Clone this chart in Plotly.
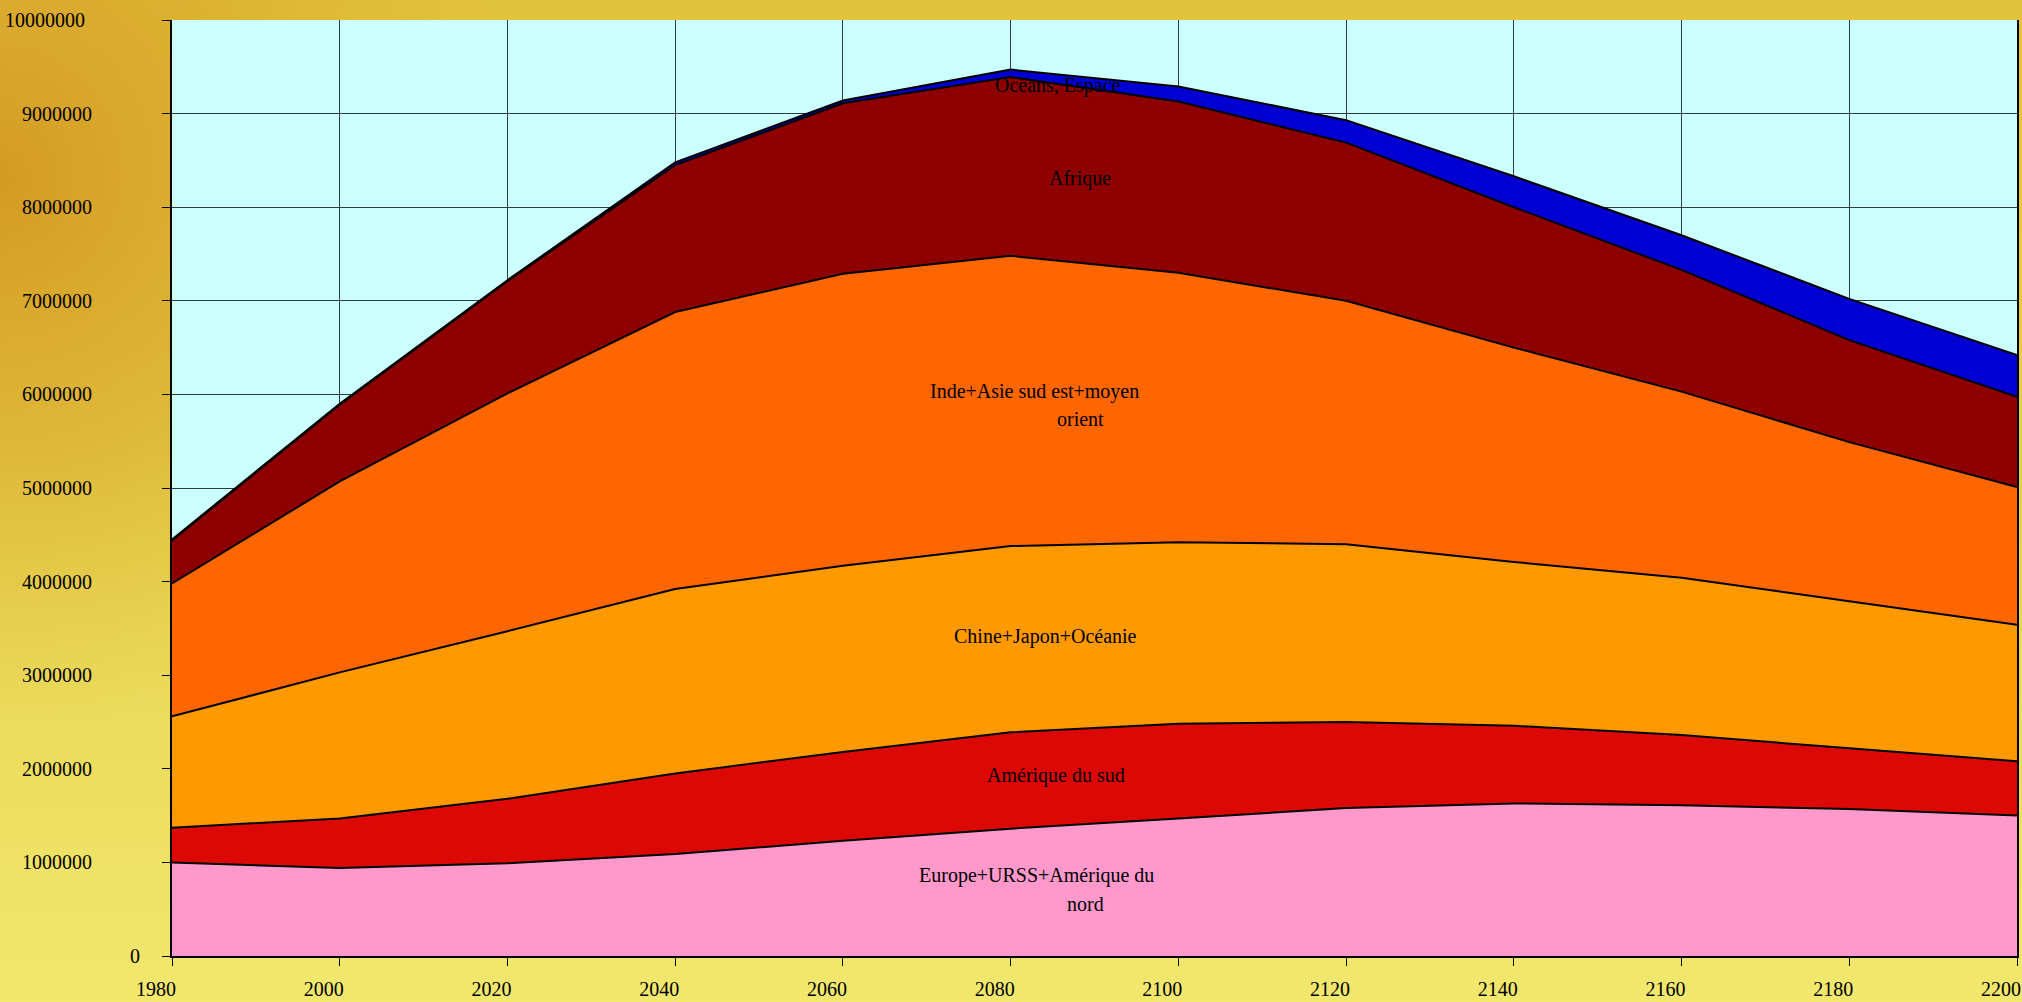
import base64
import plotly.graph_objects as go

# ---------------- data ----------------
years = [1980, 2000, 2020, 2040, 2060, 2080, 2100, 2120, 2140, 2160, 2180, 2200]

europe_urss_am_nord = [1000000, 940000, 990000, 1090000, 1230000, 1360000, 1470000, 1580000, 1630000, 1610000, 1570000, 1500000]
amerique_sud = [370000, 530000, 690000, 860000, 950000, 1030000, 1010000, 920000, 830000, 750000, 650000, 580000]
chine_japon_oceanie = [1190000, 1560000, 1790000, 1970000, 1990000, 1990000, 1940000, 1900000, 1750000, 1680000, 1570000, 1460000]
inde_asie_moyen_orient = [1420000, 2040000, 2540000, 2960000, 3120000, 3100000, 2880000, 2600000, 2290000, 1990000, 1700000, 1470000]
afrique = [460000, 820000, 1200000, 1570000, 1820000, 1910000, 1830000, 1690000, 1500000, 1300000, 1090000, 965000]
oceans_espace = [10000, 10000, 10000, 30000, 30000, 80000, 160000, 240000, 330000, 370000, 440000, 445000]

y_tickvals = [0, 1000000, 2000000, 3000000, 4000000, 5000000, 6000000, 7000000, 8000000, 9000000, 10000000]
y_ticktext = ["0", "1000000", "2000000", "3000000", "4000000", "5000000", "6000000", "7000000", "8000000", "9000000", "10000000"]
x_tickvals = years
x_ticktext = [str(y) for y in years]

series_names = ["Europe+URSS+Amérique du nord", "Amérique du sud", "Chine+Japon+Océanie",
                "Inde+Asie sud est+moyen orient", "Afrique", "Océans, Espace"]
series_values = [europe_urss_am_nord, amerique_sud, chine_japon_oceanie,
                 inde_asie_moyen_orient, afrique, oceans_espace]
series_colors = ["#FF99CC", "#DC0806", "#FF9900", "#FF6600", "#8E0000", "#0000D2"]

# in-chart labels: (text, year, value)
labels = [
    ("Océans, Espace", 2085.6, 9300000),
    ("Afrique", 2088.3, 8310000),
    ("Inde+Asie sud est+moyen", 2082.8, 6030000),
    ("orient", 2088.3, 5740000),
    ("Chine+Japon+Océanie", 2084.2, 3410000),
    ("Amérique du sud", 2085.4, 1925000),
    ("Europe+URSS+Amérique du", 2083.1, 855000),
    ("nord", 2088.9, 556000),
]

# ---------------- layout geometry ----------------
W, H = 2022, 1002
ML, MR, MT, MB = 172, 5, 20, 46
PW, PH = W - ML - MR, H - MT - MB
FONT = "Liberation Serif, Times New Roman, serif"

# the two end tick labels sit a little apart from the others in the original
special_ticks = {0: 142, 10000000: 87}   # value -> right edge (px from page left)
y_ticktext_axis = ["" if v in special_ticks else t for v, t in zip(y_tickvals, y_ticktext)]

# textured-gold background approximated by gradients
svg = f"""<svg xmlns='http://www.w3.org/2000/svg' width='{W}' height='{H}' preserveAspectRatio='none'>
<defs>
<linearGradient id='v' x1='0' y1='0' x2='0' y2='1'>
<stop offset='0' stop-color='#E2C23C'/>
<stop offset='0.45' stop-color='#E6D04C'/>
<stop offset='1' stop-color='#F2E86E'/>
</linearGradient>
<radialGradient id='r' cx='0' cy='0.18' r='0.55' gradientTransform='scale(0.5,1)'>
<stop offset='0' stop-color='#D49A22' stop-opacity='1'/>
<stop offset='0.5' stop-color='#D9A82C' stop-opacity='0.6'/>
<stop offset='1' stop-color='#E0BC3A' stop-opacity='0'/>
</radialGradient>
</defs>
<rect x='0' y='0' width='{W}' height='{H}' fill='url(#v)'/>
<rect x='0' y='0' width='{W}' height='{H}' fill='url(#r)'/>
</svg>"""
bg_uri = "data:image/svg+xml;base64," + base64.b64encode(svg.encode()).decode()

fig = go.Figure()
for name, vals, col in zip(series_names, series_values, series_colors):
    fig.add_trace(go.Scatter(
        x=years, y=vals, name=name, mode="lines", stackgroup="one",
        line=dict(color="black", width=2), fillcolor=col,
        hoverinfo="x+y+name",
    ))

for text, xv, yv in labels:
    fig.add_annotation(x=xv, y=yv, xref="x", yref="y", text=text, showarrow=False,
                       font=dict(family=FONT, size=20, color="black"),
                       xanchor="center", yanchor="middle")

for v, t in zip(y_tickvals, y_ticktext):
    if v in special_ticks:
        fig.add_annotation(x=(special_ticks[v] - ML) / PW, xref="paper", y=v, yref="y",
                           text=t, showarrow=False, xanchor="right", yanchor="middle",
                           font=dict(family=FONT, size=20, color="black"))

fig.add_layout_image(dict(
    source=bg_uri, xref="paper", yref="paper",
    x=-(ML + 3) / PW, y=1 + (MT + 3) / PH, sizex=(W + 6) / PW, sizey=(H + 6) / PH,
    xanchor="left", yanchor="top", sizing="stretch", layer="below",
))
fig.add_shape(type="rect", xref="paper", yref="paper", x0=0, y0=0, x1=1, y1=1,
              fillcolor="#CCFFFF", line=dict(width=0), layer="below")

fig.update_layout(
    width=W, height=H,
    margin=dict(l=ML, r=MR, t=MT, b=MB, pad=0, autoexpand=False),
    paper_bgcolor="#E6C840",
    plot_bgcolor="rgba(0,0,0,0)",
    showlegend=False,
    font=dict(family=FONT, size=20, color="black"),
    xaxis=dict(
        range=[1980, 2200], tickmode="array", tickvals=x_tickvals, ticktext=x_ticktext,
        showgrid=True, gridcolor="#303C3C", gridwidth=1,
        showline=True, linecolor="black", linewidth=2,
        ticks="outside", ticklen=8, tickcolor="black", tickwidth=1,
        ticklabelshift=-16, ticklabelstandoff=6, automargin=False,
        zeroline=False, tickfont=dict(family=FONT, size=20, color="black"),
    ),
    yaxis=dict(
        range=[0, 10000000], tickmode="array", tickvals=y_tickvals, ticktext=y_ticktext_axis,
        showgrid=True, gridcolor="#303C3C", gridwidth=1,
        showline=True, linecolor="black", linewidth=2, mirror=True,
        ticks="outside", ticklen=8, tickcolor="black", tickwidth=1,
        ticklabelstandoff=66, automargin=False,
        zeroline=False, tickfont=dict(family=FONT, size=20, color="black"),
    ),
)

fig.write_html(
    "out.html",
    config={"displayModeBar": False},
    post_script="document.body.style.margin='0';document.body.style.overflow='hidden';",
)
